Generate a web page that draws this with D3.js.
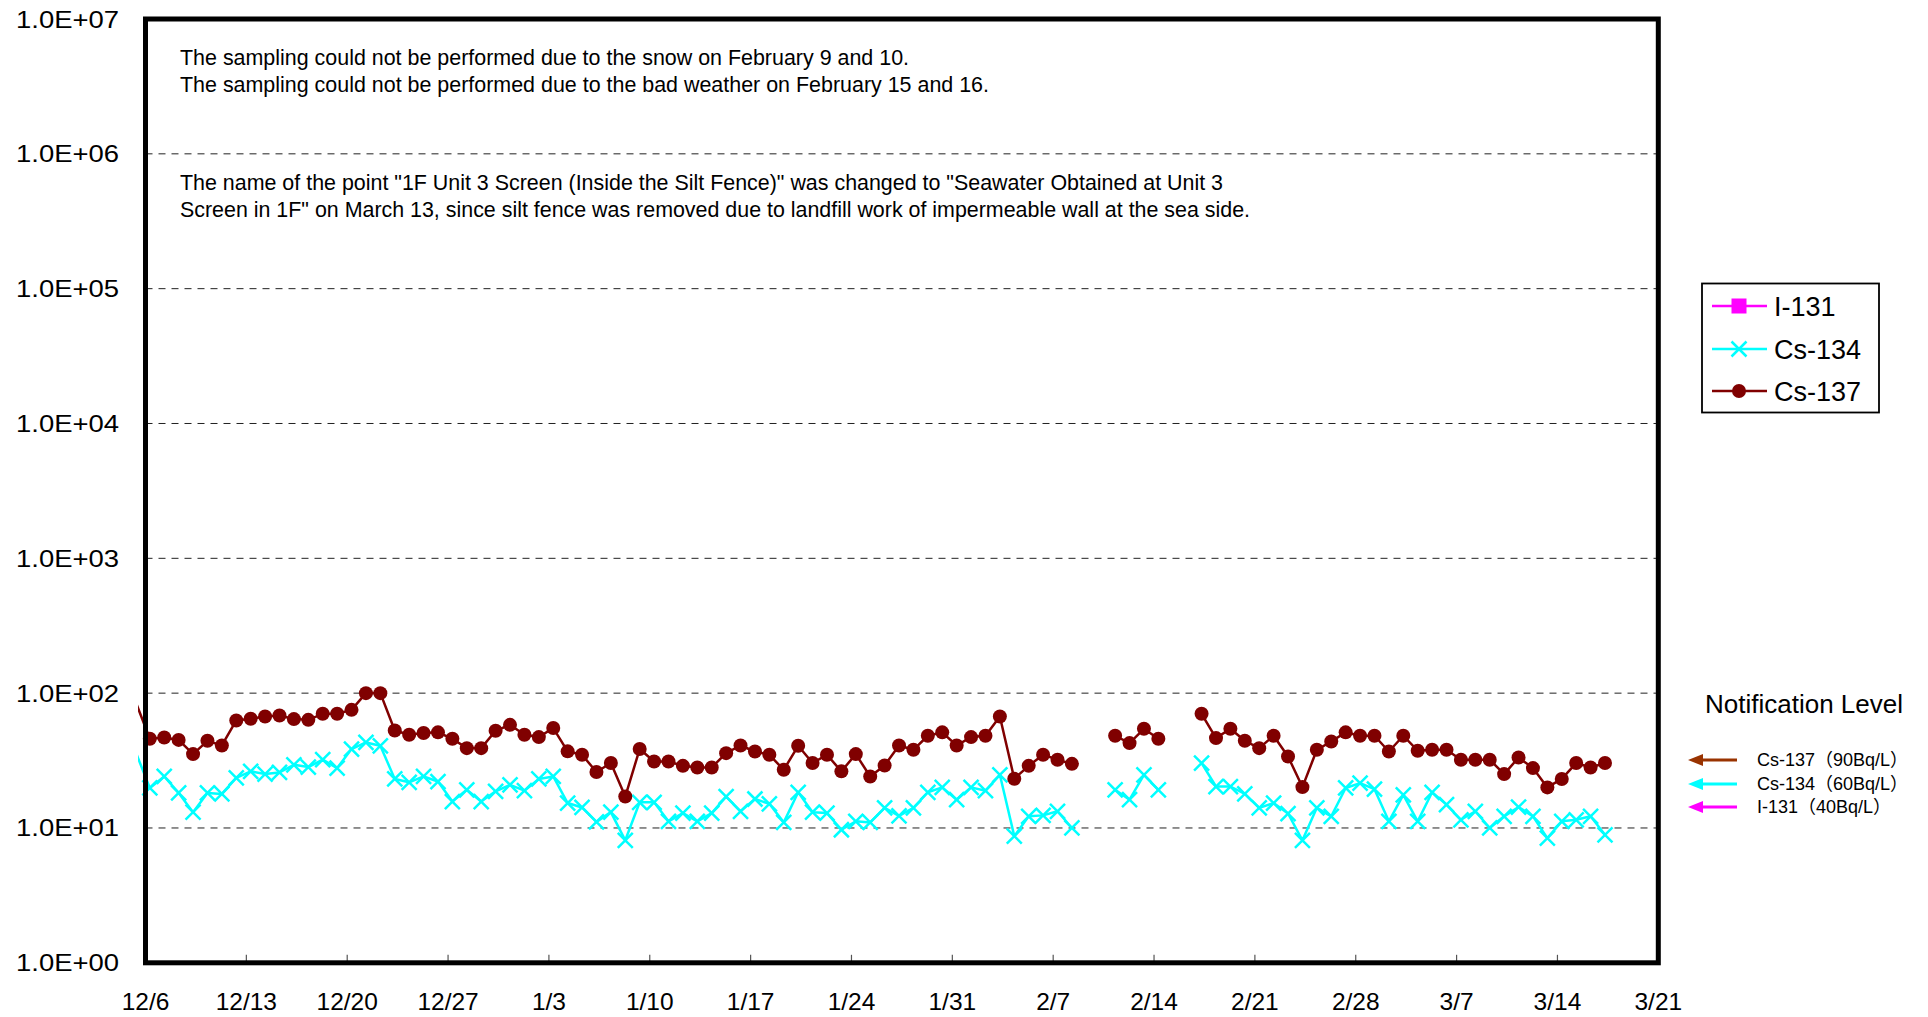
<!DOCTYPE html>
<html>
<head>
<meta charset="utf-8">
<script src="https://cdn.jsdelivr.net/npm/d3@7"></script>
<style>
  html, body { margin: 0; padding: 0; background: #fff; }
  svg { display: block; }
  text { font-family: "Liberation Sans", Arial, "Noto Sans CJK JP", sans-serif; fill: #000; }
</style>
</head>
<body>
<svg id="chart" width="1928" height="1017"></svg>
<script>
// ---------------- DATA ----------------
const dates = ["12/5",
  "12/6","12/7","12/8","12/9","12/10","12/11","12/12","12/13","12/14","12/15","12/16","12/17","12/18","12/19","12/20","12/21","12/22","12/23","12/24","12/25","12/26","12/27","12/28","12/29","12/30","12/31",
  "1/1","1/2","1/3","1/4","1/5","1/6","1/7","1/8","1/9","1/10","1/11","1/12","1/13","1/14","1/15","1/16","1/17","1/18","1/19","1/20","1/21","1/22","1/23","1/24","1/25","1/26","1/27","1/28","1/29","1/30","1/31",
  "2/1","2/2","2/3","2/4","2/5","2/6","2/7","2/8","2/9","2/10","2/11","2/12","2/13","2/14","2/15","2/16","2/17","2/18","2/19","2/20","2/21","2/22","2/23","2/24","2/25","2/26","2/27","2/28",
  "3/1","3/2","3/3","3/4","3/5","3/6","3/7","3/8","3/9","3/10","3/11","3/12","3/13","3/14","3/15","3/16","3/17"];

const cs137 = [87,
  45.9,46.9,45.0,35.3,44.3,40.9,62.7,64.5,67.1,68.3,64.2,63.4,70.3,70.3,75.2,100,100,52.8,49.1,50.6,51.2,45.9,39.1,39.1,52.6,58.2,
  49.1,47.2,55.1,37.0,34.9,26.0,30.3,17.1,38.5,31.1,31.1,28.9,28.1,28.1,35.9,40.9,36.9,34.9,27.0,40.7,30.3,34.9,26.3,35.3,24.1,29.1,40.9,38.0,48.3,51.2,40.9,
  47.2,48.3,67.1,23.2,28.9,34.9,32.1,29.9,null,null,48.3,42.6,54.4,45.9,null,null,70.3,46.4,54.4,44.3,39.1,48.3,33.9,20.1,38.0,43.8,51.2,48.3,
  48.3,36.9,48.3,37.4,38.0,38.0,32.1,32.1,32.1,25.1,33.3,27.8,20.0,23.1,30.3,28.1,30.3];

const cs134 = [37,
  19.8,24.1,18.2,13.1,18.2,17.9,23.5,26.3,25.1,25.8,29.4,28.3,32.1,27.8,38.5,43.1,40.7,23.1,21.8,24.1,22.1,15.7,19.2,15.7,18.7,20.9,
  18.9,23.1,24.1,15.3,14.2,11.1,13.1,8.1,15.5,15.5,11.2,12.9,11.2,12.9,17.1,13.3,16.4,15.1,11.0,18.4,13.1,12.9,9.7,11.2,11.0,14.1,12.3,14.1,18.4,20.0,16.2,
  20.0,18.9,24.8,8.7,12.2,12.4,13.3,10.0,null,null,19.2,16.2,24.8,19.2,null,null,30.3,20.3,20.3,17.9,14.1,15.3,12.8,8.1,14.1,12.2,19.8,21.5,
  19.4,11.2,17.6,11.2,18.4,14.9,11.5,13.3,10.0,12.2,14.3,12.2,8.4,11.2,11.5,12.2,8.9];

// I-131: not detected over the whole period (no plotted values)
const i131 = dates.map(() => null);

const xTickLabels = ["12/6","12/13","12/20","12/27","1/3","1/10","1/17","1/24","1/31","2/7","2/14","2/21","2/28","3/7","3/14","3/21"];
const yTickValues = [1e0,1e1,1e2,1e3,1e4,1e5,1e6,1e7];
const yTickLabels = ["1.0E+00","1.0E+01","1.0E+02","1.0E+03","1.0E+04","1.0E+05","1.0E+06","1.0E+07"];

const legendNames = ["I-131","Cs-134","Cs-137"];
const notifLabels = ["Cs-137（90Bq/L）","Cs-134（60Bq/L）","I-131（40Bq/L）"];

const notes = [
  "The sampling could not be performed due to the snow on February 9 and 10.",
  "The sampling could not be performed due to the bad weather on February 15 and 16.",
  "The name of the point \"1F Unit 3 Screen (Inside the Silt Fence)\" was changed to \"Seawater Obtained at Unit 3",
  "Screen in 1F\" on March 13, since silt fence was removed due to landfill work of impermeable wall at the sea side."
];
const noteWidths = [729, 809, 1043, 1070];

// ---------------- HELPERS ----------------
function parseMD(s) {
  const [m, d] = s.split("/").map(Number);
  return new Date(m === 12 ? 2013 : 2014, m - 1, d);
}
const SAMPLE_OFFSET_DAYS = 0.3; // samples taken in the morning

// ---------------- LAYOUT ----------------
const L = 145.5, R = 1658.3, T = 19, B = 962.8;
const svg = d3.select("#chart");

const x = d3.scaleTime()
  .domain([parseMD("12/6"), parseMD("3/21")])
  .range([L, R]);
const y = d3.scaleLog().domain([1, 1e7]).range([B, T]);

const px = d => x(new Date(d.date.getTime() + SAMPLE_OFFSET_DAYS * 864e5));

function series(vals) {
  return dates.map((s, i) => ({ date: parseMD(s), v: vals[i] }));
}
const s137 = series(cs137), s134 = series(cs134);

// gridlines
svg.append("g").selectAll("line")
  .data(yTickValues.slice(1, -1))
  .join("line")
  .attr("x1", L).attr("x2", R)
  .attr("y1", d => y(d)).attr("y2", d => y(d))
  .attr("stroke", "#222").attr("stroke-width", 1)
  .attr("stroke-dasharray", "7,6");

// y labels
svg.append("g").selectAll("text")
  .data(yTickValues)
  .join("text")
  .attr("x", 119).attr("y", d => y(d) + 8.5)
  .attr("text-anchor", "end")
  .attr("font-size", 23)
  .attr("textLength", 103).attr("lengthAdjust", "spacingAndGlyphs")
  .text((d, i) => yTickLabels[i]);

// x ticks & labels
const xTickDates = xTickLabels.map(parseMD);
svg.append("g").selectAll("line")
  .data(xTickDates.slice(1, -1))
  .join("line")
  .attr("x1", d => x(d)).attr("x2", d => x(d))
  .attr("y1", B).attr("y2", B - 8)
  .attr("stroke", "#555").attr("stroke-width", 1.2);

svg.append("g").selectAll("text")
  .data(xTickDates)
  .join("text")
  .attr("x", d => x(d)).attr("y", 1010)
  .attr("text-anchor", "middle")
  .attr("font-size", 24.5)
  .text((d, i) => xTickLabels[i]);

// notes
svg.append("g").selectAll("text")
  .data(notes)
  .join("text")
  .attr("x", 180)
  .attr("y", (d, i) => [65, 92, 190, 216.5][i])
  .attr("font-size", 21.4)
  .attr("textLength", (d, i) => noteWidths[i]).attr("lengthAdjust", "spacingAndGlyphs")
  .text(d => d);

// clip for series lines
svg.append("clipPath").attr("id", "clip")
  .append("rect").attr("x", 138).attr("y", T).attr("width", R - 138).attr("height", B - T);

const line = d3.line()
  .defined(d => d.v != null)
  .x(px).y(d => y(d.v));

const inDomain = d => d.v != null && d.date >= x.domain()[0];

// Cs-134
svg.append("path").datum(s134)
  .attr("clip-path", "url(#clip)")
  .attr("d", line).attr("fill", "none")
  .attr("stroke", "#00ffff").attr("stroke-width", 2.5).attr("stroke-linejoin", "round");
const xs = 7.5;
svg.append("g").selectAll("path")
  .data(s134.filter(inDomain))
  .join("path")
  .attr("d", d => {
    const cx = px(d), cy = y(d.v);
    return `M${cx - xs},${cy - xs}L${cx + xs},${cy + xs}M${cx - xs},${cy + xs}L${cx + xs},${cy - xs}`;
  })
  .attr("stroke", "#00ffff").attr("stroke-width", 2.5).attr("fill", "none");

// Cs-137
svg.append("path").datum(s137)
  .attr("clip-path", "url(#clip)")
  .attr("d", line).attr("fill", "none")
  .attr("stroke", "#800000").attr("stroke-width", 2.5).attr("stroke-linejoin", "round");
svg.append("g").selectAll("circle")
  .data(s137.filter(inDomain))
  .join("circle")
  .attr("cx", px).attr("cy", d => y(d.v)).attr("r", 7)
  .attr("fill", "#800000");

// plot frame
svg.append("rect")
  .attr("x", L).attr("y", T).attr("width", R - L).attr("height", B - T)
  .attr("fill", "none").attr("stroke", "#000").attr("stroke-width", 5);

// legend
const lg = svg.append("g");
lg.append("rect").attr("x", 1702).attr("y", 283.5).attr("width", 177).attr("height", 129)
  .attr("fill", "#fff").attr("stroke", "#000").attr("stroke-width", 1.8);
const legColors = ["#ff00ff", "#00ffff", "#800000"];
const legY = [306, 349, 391];
legendNames.forEach((name, i) => {
  const cy = legY[i];
  lg.append("line").attr("x1", 1712).attr("x2", 1767).attr("y1", cy).attr("y2", cy)
    .attr("stroke", legColors[i]).attr("stroke-width", 2.5);
  if (i === 0) {
    lg.append("rect").attr("x", 1739 - 7.5).attr("y", cy - 7.5).attr("width", 15).attr("height", 15)
      .attr("fill", legColors[i]);
  } else if (i === 1) {
    lg.append("path")
      .attr("d", `M${1739 - xs},${cy - xs}L${1739 + xs},${cy + xs}M${1739 - xs},${cy + xs}L${1739 + xs},${cy - xs}`)
      .attr("stroke", legColors[i]).attr("stroke-width", 2.5);
  } else {
    lg.append("circle").attr("cx", 1739).attr("cy", cy).attr("r", 7).attr("fill", legColors[i]);
  }
  lg.append("text").attr("x", 1774).attr("y", cy + 9.5).attr("font-size", 27).text(name);
});

// notification level
const ng = svg.append("g");
ng.append("text").attr("x", 1705).attr("y", 713).attr("font-size", 26).text("Notification Level");
const arrowColors = ["#993300", "#00ffff", "#ff00ff"];
const arrowY = [760, 784, 807];
notifLabels.forEach((lab, i) => {
  const ay = arrowY[i];
  ng.append("line").attr("x1", 1700).attr("x2", 1737).attr("y1", ay).attr("y2", ay)
    .attr("stroke", arrowColors[i]).attr("stroke-width", 3);
  ng.append("path").attr("d", `M1688,${ay}L1703,${ay - 6}L1703,${ay + 6}Z`).attr("fill", arrowColors[i]);
  ng.append("text").attr("x", 1757).attr("y", ay + 6).attr("font-size", 18).text(lab);
});
</script>
</body>
</html>
